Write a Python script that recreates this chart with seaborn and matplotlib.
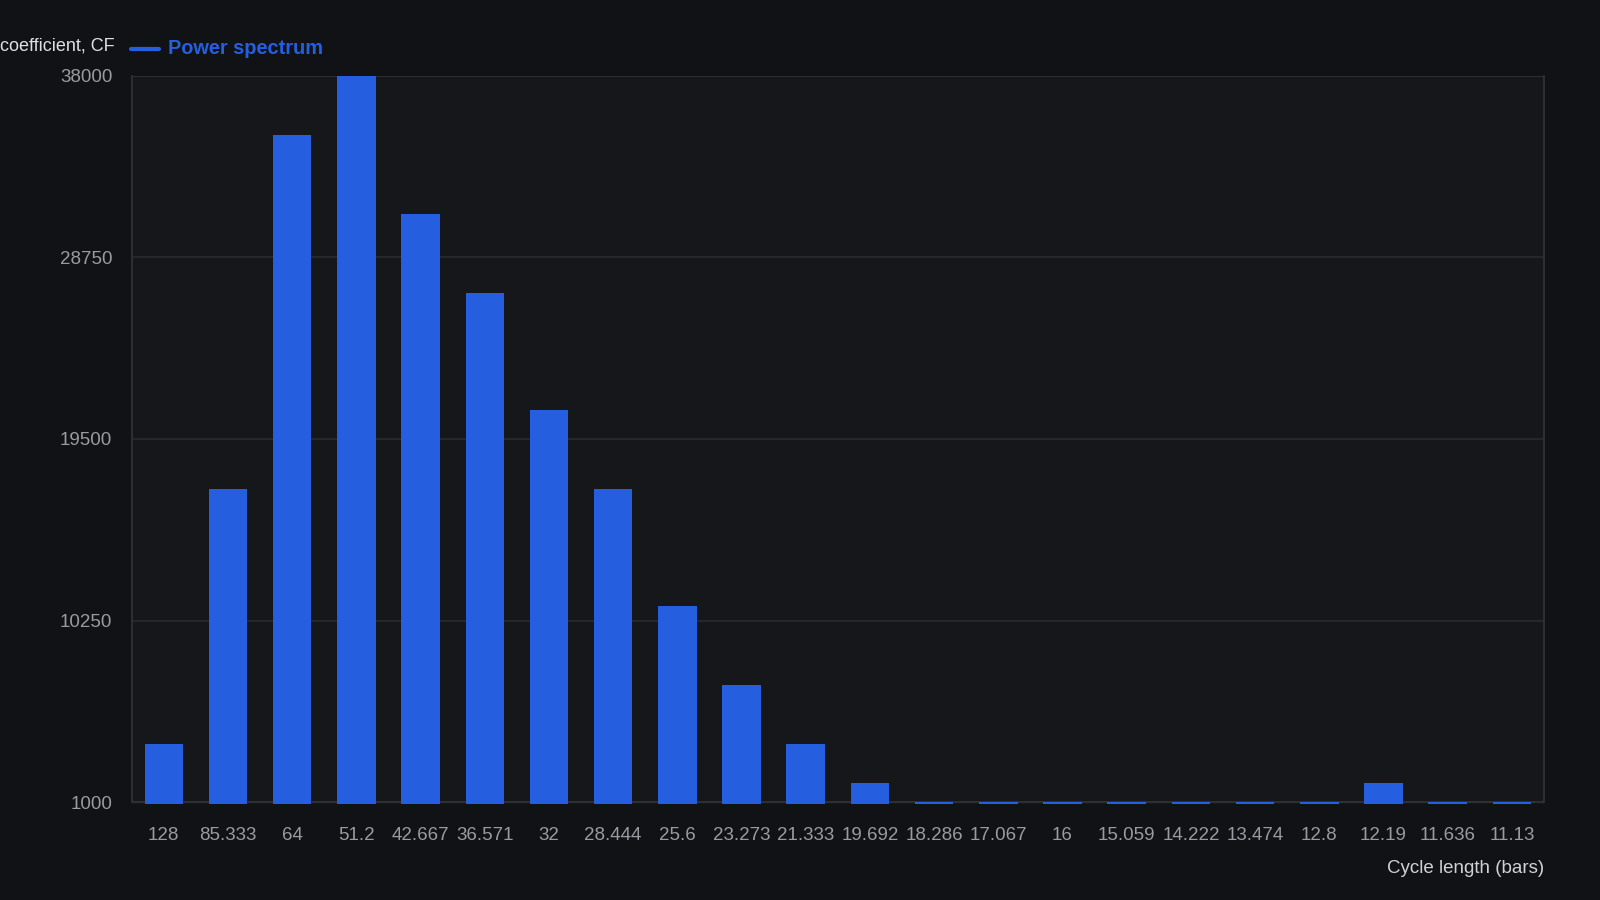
import seaborn as sns
import matplotlib.pyplot as plt
import pandas as pd

# cycle lengths (bars) and power spectrum coefficient
cycles = ["128", "85.333", "64", "51.2", "42.667", "36.571", "32", "28.444",
          "25.6", "23.273", "21.333", "19.692", "18.286", "17.067", "16",
          "15.059", "14.222", "13.474", "12.8", "12.19", "11.636", "11.13"]
power = [3950, 16950, 34950, 38000, 30950, 26950, 20950, 16950,
         11000, 6950, 3950, 1980, 1000, 1000, 1000,
         1000, 1000, 1000, 1000, 1980, 1000, 1000]
y_ticks = [1000, 10250, 19500, 28750, 38000]

df = pd.DataFrame({"cycle": cycles, "power": power})

bg = "#111216"
panel = "#16171b"
bar_col = "#265ee0"
tick_col = "#9a9ba0"

sns.set_theme(style="dark")
plt.rcParams["font.family"] = ["Liberation Sans", "DejaVu Sans"]

fig = plt.figure(figsize=(16, 9), dpi=100, facecolor=bg)
ax = fig.add_axes([0.0823, 0.107, 0.8827, 0.809])
ax.set_facecolor(panel)

sns.barplot(data=df, x="cycle", y="power", color=bar_col, width=0.6,
            saturation=1, linewidth=0, edgecolor="none", ax=ax, zorder=3)

ax.set_ylim(925, 38000)
ax.set_xlim(-0.5, len(cycles) - 0.5)
ax.set_yticks(y_ticks)
ax.set_yticklabels([str(v) for v in y_ticks])
for v in y_ticks:
    ax.axhline(v, color="#2a2b30" if v not in (1000, 38000) else "#333439",
               lw=1.2, zorder=1)

for s in ["top", "bottom"]:
    ax.spines[s].set_visible(False)
for s in ["left", "right"]:
    ax.spines[s].set_color("#333439")
    ax.spines[s].set_linewidth(1.2)
ax.spines["left"].set_bounds(1000, 38000)
ax.spines["right"].set_bounds(1000, 38000)

ax.tick_params(axis="both", colors=tick_col, labelsize=13.5, length=0, pad=14)
ax.tick_params(axis="x", pad=17)
ax.set_xlabel("")
ax.set_ylabel("")
ax.grid(False)

# header: y-axis title (clipped in the source) and legend
fig.text(0.0, 0.949, "coefficient, CF", ha="left", va="center",
         color="#e0e0e3", fontsize=13)
fig.lines.append(plt.Line2D([0.0816, 0.0995], [0.946, 0.946], color=bar_col,
                            lw=3, transform=fig.transFigure))
fig.text(0.1052, 0.946, "Power spectrum", ha="left", va="center",
         color=bar_col, fontsize=14.4, fontweight="bold")

fig.text(0.965, 0.035, "Cycle length (bars)", ha="right", va="center",
         color="#d0d1d4", fontsize=13.5)

fig.savefig("out.png", facecolor=bg)
